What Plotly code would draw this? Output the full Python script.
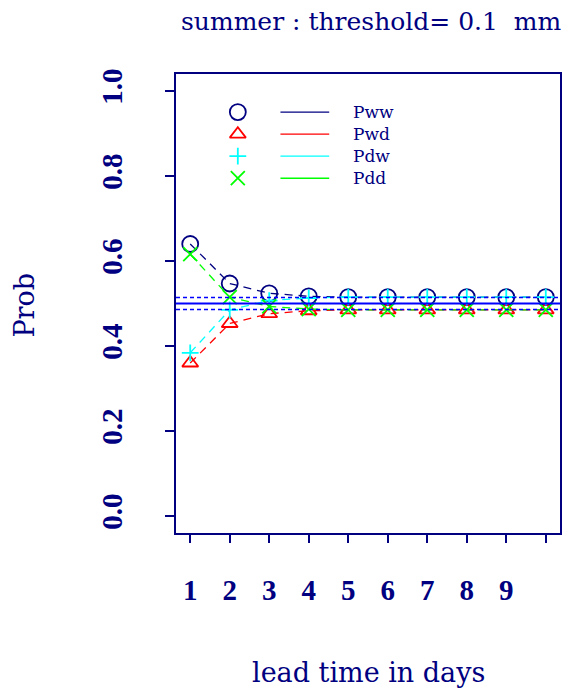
import plotly.graph_objects as go

# ---- data ----
days = [1, 2, 3, 4, 5, 6, 7, 8, 9, 10]
x_tick_labels = ["1", "2", "3", "4", "5", "6", "7", "8", "9", ""]
y_tick_vals = [0.0, 0.2, 0.4, 0.6, 0.8, 1.0]
y_tick_labels = ["0.0", "0.2", "0.4", "0.6", "0.8", "1.0"]

Pww = [0.640, 0.547, 0.524, 0.517, 0.515, 0.515, 0.515, 0.515, 0.515, 0.515]
Pwd = [0.360, 0.453, 0.476, 0.483, 0.485, 0.485, 0.485, 0.485, 0.485, 0.485]
Pdw = [0.384, 0.485, 0.507, 0.513, 0.515, 0.515, 0.515, 0.515, 0.515, 0.515]
Pdd = [0.616, 0.515, 0.493, 0.487, 0.485, 0.485, 0.485, 0.485, 0.485, 0.485]

series_names = ["Pww", "Pwd", "Pdw", "Pdd"]
series_values = [Pww, Pwd, Pdw, Pdd]

ref_mid = 0.5
ref_hi = 0.514
ref_lo = 0.486

title_text = "summer : threshold= 0.1\u00a0\u00a0mm"
x_title = "lead time in days"
y_title = "Prob"

# ---- styles ----
NAVY = "#000080"
colors = ["#000080", "#FF0000", "#00FFFF", "#00FF00"]
symbols = ["circle-open", "triangle-up-open", "cross-thin-open", "x-thin-open"]
sizes = [16, 14, 12, 14]

fig = go.Figure()

for name, vals, c, s, sz in zip(series_names, series_values, colors, symbols, sizes):
    fig.add_trace(go.Scatter(
        x=days, y=vals, mode="lines+markers", name=name,
        line=dict(color=c, width=1.3, dash="8px,6px"),
        marker=dict(symbol=s, size=sz, color=c, line=dict(color=c, width=1.8)),
        showlegend=False, cliponaxis=False,
    ))

# reference lines
fig.add_hline(y=ref_mid, line=dict(color="#0000FF", width=1.8))
fig.add_hline(y=ref_hi, line=dict(color="#0000FF", width=1.6, dash="4px,3px"))
fig.add_hline(y=ref_lo, line=dict(color="#0000FF", width=1.6, dash="4px,3px"))

# ---- manual legend (R-style: symbol, line, text) ----
leg_sym_x = 0.161
leg_line_x0 = 0.272
leg_line_x1 = 0.399
leg_text_x = 0.455
leg_rows = [0.917, 0.869, 0.821, 0.773]

for name, c, s, sz, ry in zip(series_names, colors, symbols, sizes, leg_rows):
    fig.add_trace(go.Scatter(
        x=[leg_sym_x], y=[ry], mode="markers", xaxis="x2", yaxis="y2",
        marker=dict(symbol=s, size=sz, color=c, line=dict(color=c, width=1.8)),
        showlegend=False, hoverinfo="skip",
    ))
    fig.add_shape(type="line", xref="paper", yref="paper",
                  x0=leg_line_x0, x1=leg_line_x1, y0=ry, y1=ry,
                  line=dict(color=c, width=1.4))
    fig.add_annotation(text=name, xref="paper", yref="paper", x=leg_text_x, y=ry,
                       xanchor="left", yanchor="middle", showarrow=False,
                       font=dict(family="DejaVu Serif", size=17, color=NAVY))

# titles
fig.add_annotation(text=title_text, xref="paper", yref="paper", x=0.51, y=1.115,
                   xanchor="center", yanchor="middle", showarrow=False,
                   font=dict(family="DejaVu Serif", size=25, color=NAVY))
fig.add_annotation(text=x_title, xref="paper", yref="paper", x=0.5, y=-0.303,
                   xanchor="center", yanchor="middle", showarrow=False,
                   font=dict(family="DejaVu Serif", size=27, color=NAVY))
fig.add_annotation(text=y_title, xref="paper", yref="paper", x=-0.394, y=0.497,
                   xanchor="center", yanchor="middle", showarrow=False, textangle=-90,
                   font=dict(family="DejaVu Serif", size=27, color=NAVY))

tick_font = dict(family="Liberation Serif", size=29, color=NAVY, weight="bold")

fig.update_layout(
    width=569, height=691,
    margin=dict(l=176, r=7, t=74, b=158),
    paper_bgcolor="white", plot_bgcolor="white",
    showlegend=False,
    xaxis=dict(
        range=[0.64, 10.36], tickvals=days, ticktext=x_tick_labels,
        ticks="outside", ticklen=8, tickwidth=1.5, tickcolor=NAVY,
        showline=True, linecolor=NAVY, linewidth=2, mirror=True,
        showgrid=False, zeroline=False, tickfont=tick_font,
        ticklabelstandoff=22,
    ),
    yaxis=dict(
        range=[-0.04, 1.04], tickvals=y_tick_vals, ticktext=y_tick_labels,
        ticks="outside", ticklen=9, tickwidth=1.5, tickcolor=NAVY,
        showline=True, linecolor=NAVY, linewidth=2, mirror=True,
        showgrid=False, zeroline=False, tickfont=tick_font,
        tickangle=-90, ticklabelstandoff=31,
    ),
    xaxis2=dict(range=[0, 1], overlaying="x", visible=False, fixedrange=True),
    yaxis2=dict(range=[0, 1], overlaying="y", visible=False, fixedrange=True),
)

fig.write_html("out.html")
